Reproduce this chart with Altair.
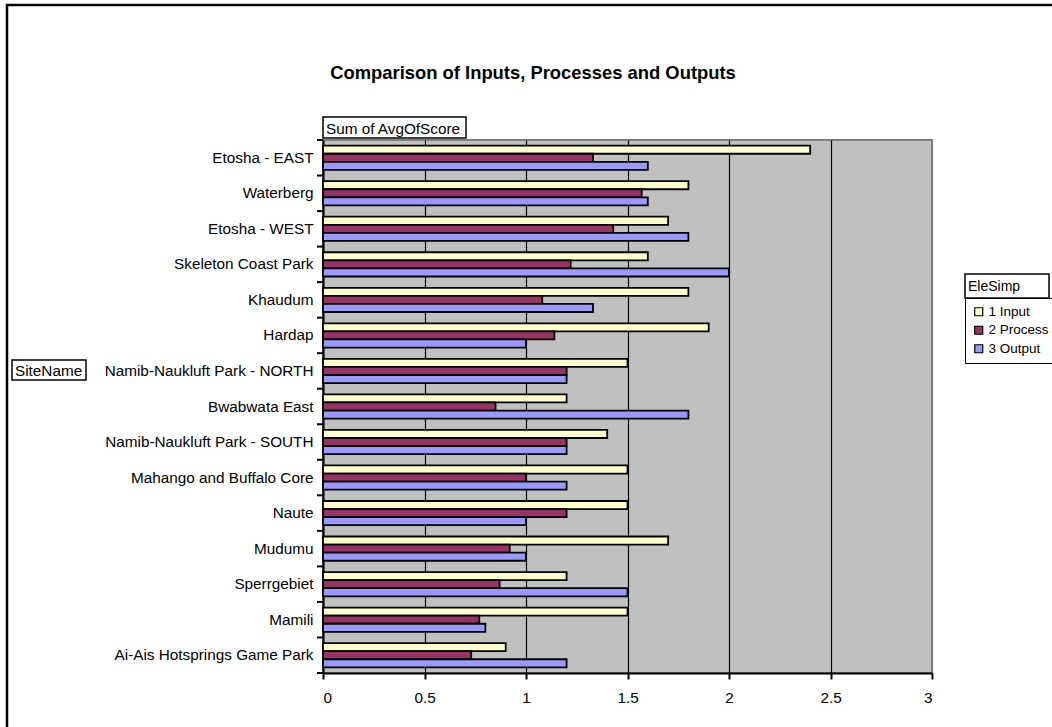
import altair as alt
import pandas as pd

sites = [
    "Etosha - EAST", "Waterberg", "Etosha - WEST", "Skeleton Coast Park", "Khaudum",
    "Hardap", "Namib-Naukluft Park - NORTH", "Bwabwata East", "Namib-Naukluft Park - SOUTH",
    "Mahango and Buffalo Core", "Naute", "Mudumu", "Sperrgebiet", "Mamili",
    "Ai-Ais Hotsprings Game Park",
]
series = ["1 Input", "2 Process", "3 Output"]
input_vals = [2.4, 1.8, 1.7, 1.6, 1.8, 1.9, 1.5, 1.2, 1.4, 1.5, 1.5, 1.7, 1.2, 1.5, 0.9]
process_vals = [1.33, 1.57, 1.43, 1.22, 1.08, 1.14, 1.2, 0.85, 1.2, 1.0, 1.2, 0.92, 0.87, 0.77, 0.73]
output_vals = [1.6, 1.6, 1.8, 2.0, 1.33, 1.0, 1.2, 1.8, 1.2, 1.2, 1.0, 1.0, 1.5, 0.8, 1.2]
colors = ["#FFFFCC", "#993366", "#9999FF"]
x_ticks = [0, 0.5, 1, 1.5, 2, 2.5, 3]

FONT = "Liberation Sans"
FS = 15.3
LFS = 13.5
W, H = 609, 533
LEFT, TOP = 323, 140
LEG_X0, LEG_X1 = 965, 1049

rows = []
for vals, s in zip([input_vals, process_vals, output_vals], series):
    for site, v in zip(sites, vals):
        rows.append({"site": site, "series": s, "score": v})
df = pd.DataFrame(rows)

y_enc = alt.Y("site:N", sort=sites, scale=alt.Scale(paddingInner=0, paddingOuter=0),
              axis=alt.Axis(title=None, ticks=False, labelPadding=10, labelFontSize=FS,
                            labelLimit=400, labelColor="black", labelFont=FONT,
                            domainColor="black", domainWidth=2))

bars = alt.Chart(df).mark_bar(stroke="black", strokeWidth=1.8).encode(
    x=alt.X("score:Q", scale=alt.Scale(domain=[0, 3], nice=False, zero=True),
            axis=alt.Axis(title=None, values=x_ticks, format="~g", grid=True,
                          gridColor={"condition": {"test": "datum.value === 3", "value": "#808080"},
                                     "value": "black"},
                          gridWidth=1.2, tickColor="black", tickSize=6, tickWidth=2,
                          domainColor="black", domainWidth=2, labelPadding=11,
                          labelFontSize=FS, labelColor="black", labelFont=FONT)),
    y=y_enc,
    yOffset=alt.YOffset("series:N", sort=series,
                        scale=alt.Scale(paddingOuter=0.7, paddingInner=0)),
    color=alt.Color("series:N", sort=series,
                    scale=alt.Scale(domain=series, range=colors),
                    legend=alt.Legend(title=None, orient="none",
                                      legendX=LEG_X0 - LEFT, legendY=298 - TOP,
                                      strokeColor="black", fillColor="white", padding=7,
                                      symbolType="square", symbolSize=64,
                                      symbolStrokeColor="black", symbolStrokeWidth=1.2,
                                      labelFontSize=LFS, labelFont=FONT, labelColor="black",
                                      labelOffset=3, rowPadding=3.5)),
)

site_df = pd.DataFrame({"site": sites})
yticks = alt.Chart(site_df).mark_rule(color="black", strokeWidth=2).encode(
    y=alt.Y("site:N", sort=sites, bandPosition=0),
    x=alt.value(-6), x2=alt.value(0),
)
yticks_end = alt.Chart(site_df).transform_filter(
    alt.datum.site == sites[-1]
).mark_rule(color="black", strokeWidth=2).encode(
    y=alt.Y("site:N", sort=sites, bandPosition=1),
    x=alt.value(-6), x2=alt.value(0),
)

ann = pd.DataFrame({"k": [0]})
base = alt.Chart(ann)

frame = base.mark_rect(fill=None, stroke="black", strokeWidth=2.5).encode(
    x=alt.value(7 - LEFT), x2=alt.value(1052 - LEFT + 20),
    y=alt.value(5 - TOP), y2=alt.value(727 - TOP + 20),
)
title = base.mark_text(text="Comparison of Inputs, Processes and Outputs", font=FONT,
                       fontSize=18.4, fontWeight="bold", color="black",
                       align="center", baseline="middle").encode(
    x=alt.value(533 - LEFT), y=alt.value(73 - TOP))

def boxed(label, x0, y0, x1, y1, size=FS):
    r = base.mark_rect(fill="white", stroke="black", strokeWidth=1.5).encode(
        x=alt.value(x0 - LEFT), x2=alt.value(x1 - LEFT),
        y=alt.value(y0 - TOP), y2=alt.value(y1 - TOP))
    t = base.mark_text(text=label, font=FONT, fontSize=size, color="black",
                       align="left", baseline="middle").encode(
        x=alt.value(x0 + 3 - LEFT), y=alt.value((y0 + y1) / 2 + 1 - TOP))
    return r + t

sum_box = boxed("Sum of AvgOfScore", 323, 117, 466, 138)
site_box = boxed("SiteName", 12, 360, 86, 380)
ele_box = boxed("EleSimp", LEG_X0, 274, LEG_X1, 298, size=LFS + 0.5)

chart = alt.layer(frame, bars, yticks, yticks_end, title, sum_box, site_box, ele_box).properties(
    width=W, height=H,
    padding={"left": LEFT, "top": TOP, "right": 1052 - LEFT - W, "bottom": 727 - TOP - H},
    autosize=alt.AutoSizeParams(type="none"),
    background="white",
).configure_view(fill="#C0C0C0", stroke="#808080", strokeWidth=2)

chart.save("out.html", embed_options={"renderer": "svg", "actions": False})
